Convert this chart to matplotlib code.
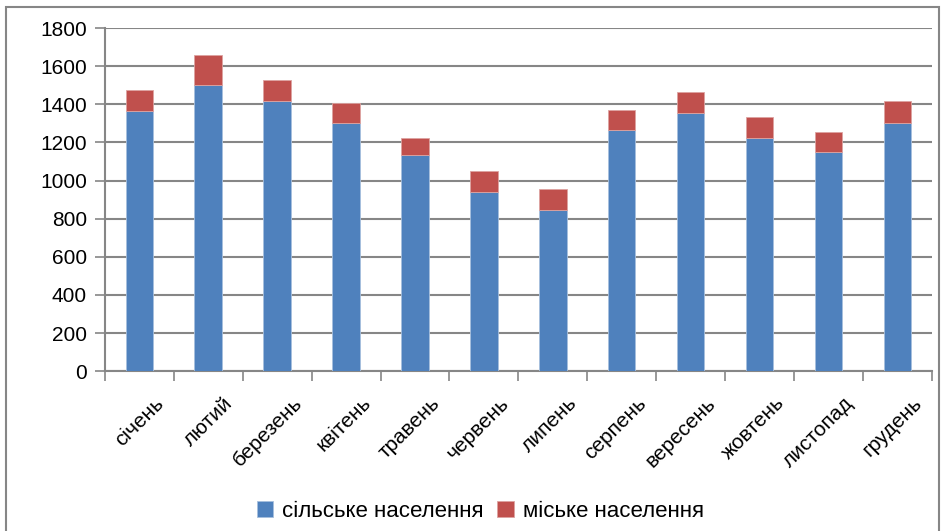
import matplotlib.pyplot as plt
import matplotlib.transforms as mtransforms
import numpy as np
from matplotlib.patches import Rectangle

plt.rcParams['font.family'] = ['Liberation Sans', 'DejaVu Sans']

# дані з діаграми
months = ['січень', 'лютий', 'березень', 'квітень', 'травень', 'червень',
          'липень', 'серпень', 'вересень', 'жовтень', 'листопад', 'грудень']
rural = [1364, 1501, 1418, 1300, 1133, 941, 848, 1263, 1354, 1226, 1151, 1300]
urban = [110, 157, 111, 108, 93, 110, 110, 110, 112, 110, 103, 120]

blue = '#4F81BD'
red = '#C0504D'
grey = '#868686'

fig = plt.figure(figsize=(9.45, 5.31), dpi=100)
ax = fig.add_axes([0.111, 0.301, 0.875, 0.646])

x = np.arange(len(months))
ax.bar(x, rural, width=0.4, color=blue, edgecolor='#A7C0DE', linewidth=0.6,
       label='сільське населення', zorder=3)
ax.bar(x, urban, width=0.4, bottom=rural, color=red, edgecolor='#DDA3A1', linewidth=0.6,
       label='міське населення', zorder=3)

ax.set_xlim(-0.5, len(months) - 0.5)
ax.set_ylim(0, 1800)
ax.set_yticks(np.arange(0, 1801, 200))
ax.tick_params(axis='y', labelsize=15, length=7, width=1.2, color=grey, pad=6)
ax.yaxis.grid(True, color=grey, linewidth=1.5, zorder=0)

# мітки категорій і риски між ними
ax.set_xticks(x)
ax.set_xticklabels(months, rotation=45, ha='right', rotation_mode='anchor', fontsize=15)
ax.tick_params(axis='x', length=0, pad=16)
shift = mtransforms.ScaledTranslation(0.15, 0, fig.dpi_scale_trans)
for lbl in ax.get_xticklabels():
    lbl.set_transform(lbl.get_transform() + shift)
ax.set_xticks(np.arange(-0.5, len(months), 1), minor=True)
ax.tick_params(axis='x', which='minor', length=7, width=1.2, color=grey)

for side in ['top', 'right']:
    ax.spines[side].set_visible(False)
for side in ['left', 'bottom']:
    ax.spines[side].set_color(grey)
    ax.spines[side].set_linewidth(1.5)

fig.legend(loc='lower center', bbox_to_anchor=(0.508, -0.02), ncol=2, frameon=False,
           fontsize=16, handlelength=0.75, handleheight=0.75, handletextpad=0.4,
           columnspacing=0.6)

# рамка області діаграми
fig.patches.append(Rectangle((6 / 945, -0.05), 933 / 945, 1.05 - 7 / 531,
                             transform=fig.transFigure, fill=False,
                             edgecolor=grey, linewidth=1.5))

fig.savefig('out.png', dpi=100)
